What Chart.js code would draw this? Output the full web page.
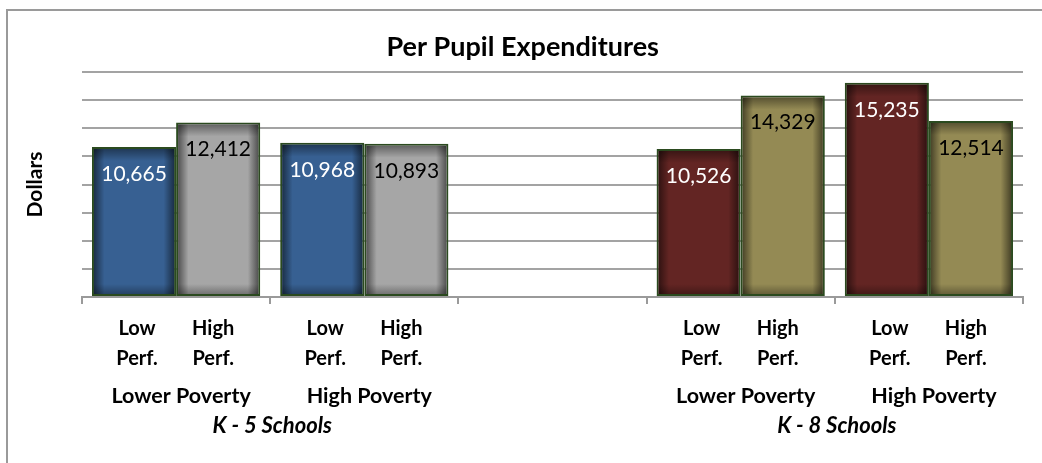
<!DOCTYPE html>
<html>
<head>
<meta charset="utf-8">
<script src="https://cdn.jsdelivr.net/npm/chart.js@4"></script>
<style>
  body { margin: 0; background: #fff; overflow: hidden; }
</style>
</head>
<body>
<canvas id="myChart" width="1042" height="463"></canvas>
<script>
// data
const groups = ['Lower Poverty', 'High Poverty', '', 'Lower Poverty', 'High Poverty'];
const lowPerf = [10665, 10968, null, 10526, 15235];
const highPerf = [12412, 10893, null, 14329, 12514];
const perfLabels = [['Low', 'Perf.'], ['High', 'Perf.']];
const schools = ['K - 5 Schools', 'K - 8 Schools'];
const schoolCats = [[0, 1], [3, 4]]; // which categories each school label spans

const FONT = 'Lato';

// K-5 bars blue / gray, K-8 bars dark red / olive
function lowColor(ctx) { return ctx.dataIndex < 2 ? '#376092' : '#632523'; }
function highColor(ctx) { return ctx.dataIndex < 2 ? '#a6a6a6' : '#948a54'; }

// outer frame, inner shadow on bars, value labels, multi level x labels
const extras = {
  id: 'extras',
  beforeDraw(chart) {
    const c = chart.ctx;
    c.save();
    c.strokeStyle = '#9a9a9a';
    c.lineWidth = 2;
    c.beginPath();
    c.moveTo(7, 470);
    c.lineTo(7, 10);
    c.lineTo(1050, 10);
    c.stroke();
    c.restore();
  },
  afterDatasetsDraw(chart) {
    const c = chart.ctx;
    chart.data.datasets.forEach((ds, d) => {
      const meta = chart.getDatasetMeta(d);
      meta.data.forEach((bar, i) => {
        if (ds.data[i] == null) return;
        const w = bar.width, l = bar.x - w / 2 + 2, r = bar.x + w / 2 - 2, t = bar.y + 2, b = bar.base - 2;
        c.save();
        let g = c.createLinearGradient(l, 0, r, 0);
        g.addColorStop(0, 'rgba(0,0,0,0.5)');
        g.addColorStop(0.13, 'rgba(0,0,0,0)');
        g.addColorStop(0.87, 'rgba(0,0,0,0)');
        g.addColorStop(1, 'rgba(0,0,0,0.5)');
        c.fillStyle = g;
        c.fillRect(l, t, r - l, b - t);
        g = c.createLinearGradient(0, t, 0, t + 12);
        g.addColorStop(0, 'rgba(0,0,0,0.4)');
        g.addColorStop(1, 'rgba(0,0,0,0)');
        c.fillStyle = g;
        c.fillRect(l, t, r - l, 12);
        g = c.createLinearGradient(0, b - 10, 0, b);
        g.addColorStop(0, 'rgba(0,0,0,0)');
        g.addColorStop(1, 'rgba(0,0,0,0.3)');
        c.fillStyle = g;
        c.fillRect(l, b - 10, r - l, 10);
        c.restore();

        c.save();
        c.font = '21px ' + FONT;
        c.fillStyle = d === 0 ? '#ffffff' : '#000000';
        c.textAlign = 'center';
        c.textBaseline = 'middle';
        c.fillText(ds.data[i].toLocaleString('en-US'), bar.x, bar.y + 27);
        c.restore();
      });
    });
  },
  afterDraw(chart) {
    const c = chart.ctx;
    const x = chart.scales.x;
    c.save();
    c.fillStyle = '#000';
    c.textAlign = 'center';
    c.textBaseline = 'middle';
    c.font = 'bold 20px ' + FONT;
    chart.data.datasets.forEach((ds, d) => {
      const meta = chart.getDatasetMeta(d);
      const shift = d === 0 ? 3 : -5;
      meta.data.forEach((bar, i) => {
        if (!groups[i]) return;
        c.fillText(perfLabels[d][0], bar.x + shift, 329);
        c.fillText(perfLabels[d][1], bar.x + shift, 359);
      });
    });
    c.font = 'bold 21.5px ' + FONT;
    groups.forEach((g, i) => {
      if (g) c.fillText(g, x.getPixelForValue(i) + 5, 396);
    });
    c.font = 'italic bold 22px ' + FONT;
    schools.forEach((s, k) => {
      const [a, b] = schoolCats[k];
      c.fillText(s, (x.getPixelForValue(a) + x.getPixelForValue(b)) / 2 + 2, 426);
    });
    c.restore();
  }
};

new Chart(document.getElementById('myChart'), {
  type: 'bar',
  data: {
    labels: groups,
    datasets: [
      { label: 'Low Perf.', data: lowPerf, backgroundColor: lowColor },
      { label: 'High Perf.', data: highPerf, backgroundColor: highColor }
    ]
  },
  options: {
    responsive: false,
    animation: false,
    events: [],
    layout: { padding: { left: 22.4, right: 19, top: 0, bottom: 159 } },
    datasets: {
      bar: {
        categoryPercentage: 0.894,
        barPercentage: 1,
        borderColor: '#2b4a1f',
        borderWidth: 2,
        borderSkipped: false
      }
    },
    plugins: {
      legend: { display: false },
      tooltip: { enabled: false },
      title: {
        display: true,
        text: 'Per Pupil Expenditures',
        color: '#000',
        font: { family: FONT, size: 27, weight: 'bold', lineHeight: 1.2 },
        padding: { top: 31, bottom: 8.6 }
      }
    },
    scales: {
      x: {
        grid: { display: true, offset: true, drawOnChartArea: false, color: '#9a9a9a', lineWidth: 2, tickLength: 7 },
        border: { display: true, color: '#9a9a9a', width: 2 },
        ticks: { display: false }
      },
      y: {
        min: 0,
        max: 16000,
        ticks: { display: false, stepSize: 2000 },
        grid: { color: '#a3a3a3', lineWidth: 2, drawTicks: false },
        border: { display: false },
        title: {
          display: true,
          text: 'Dollars',
          color: '#000',
          font: { family: FONT, size: 21, weight: 'bold', lineHeight: 1.2 },
          padding: { top: 0, bottom: 34.4 }
        }
      }
    }
  },
  plugins: [extras]
});
</script>
</body>
</html>
